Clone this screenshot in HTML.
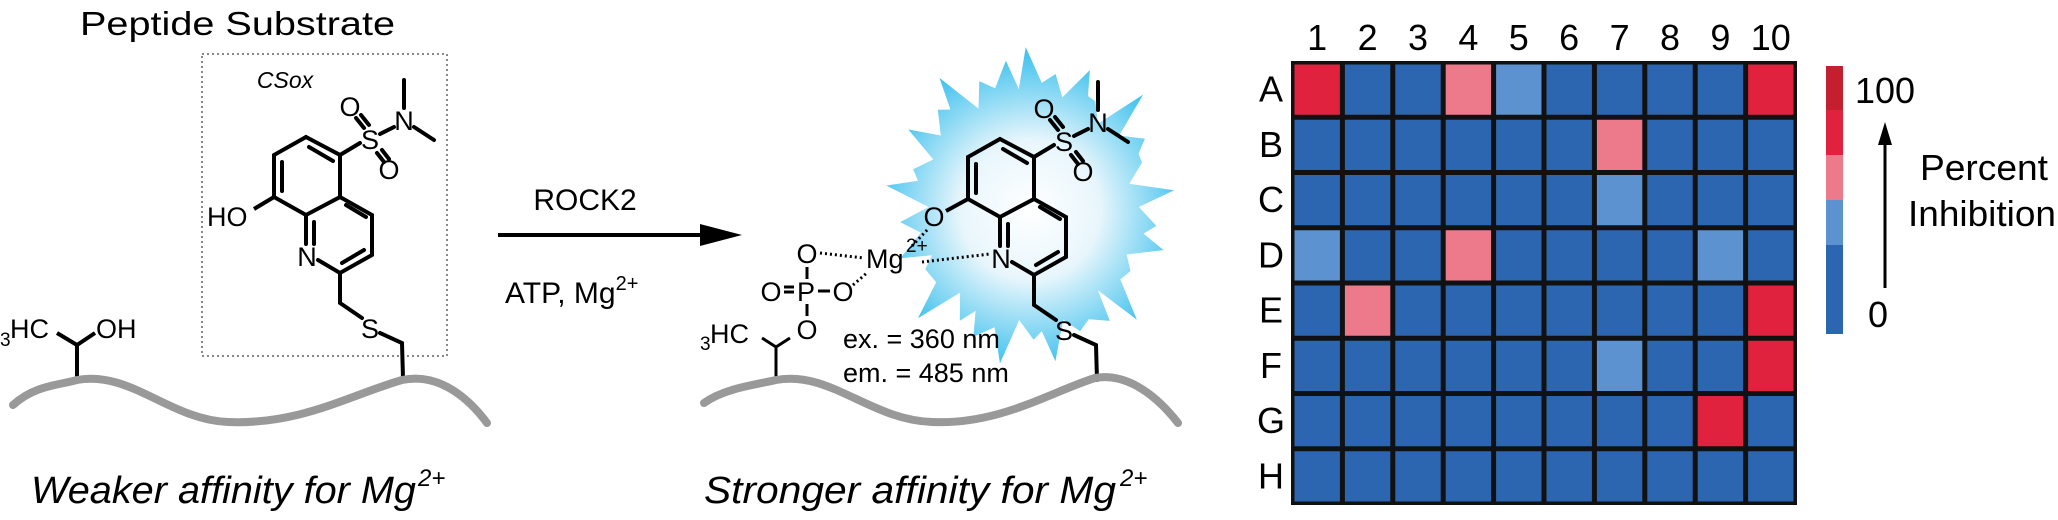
<!DOCTYPE html>
<html><head><meta charset="utf-8"><style>
html,body{margin:0;padding:0;background:#fff;}
svg{display:block;}
text{font-family:"Liberation Sans",sans-serif;}
</style></head><body>
<svg id="s" width="2058" height="520" viewBox="0 0 2058 520" xmlns="http://www.w3.org/2000/svg">
<defs>
<radialGradient id="g" cx="1030" cy="210" r="155" gradientUnits="userSpaceOnUse">
<stop offset="0" stop-color="#ffffff"/><stop offset="0.45" stop-color="#e8f6fc"/><stop offset="1" stop-color="#45c3ee"/>
</radialGradient>
<g id="mol" stroke="#000" stroke-width="4" fill="none" stroke-linecap="round">
<polyline points="306,137 274,155 274,197 306,215 340,197 340,155 306,137"/>
<polyline points="340,197 372,215 372,255 340,273 318,260"/>
<line x1="306" y1="215" x2="306" y2="244"/>
<line x1="282" y1="162" x2="282" y2="191"/>
<line x1="309" y1="147" x2="333" y2="161"/>
<line x1="346" y1="205" x2="366" y2="217"/>
<line x1="342" y1="263" x2="364" y2="250"/>
<line x1="314" y1="222" x2="314" y2="244"/>
<line x1="340" y1="155" x2="360" y2="143"/>
<line x1="380" y1="134" x2="394" y2="127"/>
<line x1="404" y1="80" x2="404" y2="108"/>
<line x1="414" y1="127" x2="434" y2="140"/>
<line x1="356" y1="118" x2="364" y2="128"/><line x1="361" y1="115" x2="369" y2="125"/>
<line x1="377" y1="153" x2="384" y2="162"/><line x1="382" y1="150" x2="389" y2="159"/>
<polyline points="340,273 340,303 362,318"/>
<polyline points="380,333 402,343 403,378"/>
</g>
<g id="moltxt" font-size="27" fill="#000">
<text x="370" y="149" text-anchor="middle">S</text>
<text x="350" y="116" text-anchor="middle">O</text>
<text x="389" y="179" text-anchor="middle">O</text>
<text x="404" y="130" text-anchor="middle">N</text>
<text x="307" y="266" text-anchor="middle">N</text>
<text x="370" y="338" text-anchor="middle">S</text>
</g>
</defs>

<!-- LEFT -->
<text x="80" y="35" font-size="33" textLength="315" lengthAdjust="spacingAndGlyphs">Peptide Substrate</text>
<rect x="202" y="54" width="245" height="302" fill="none" stroke="#888" stroke-width="2" stroke-dasharray="2,3"/>
<text x="285" y="88" font-size="23" font-style="italic" text-anchor="middle">CSox</text>
<use href="#mol"/><use href="#moltxt"/>
<line x1="274" y1="197" x2="254" y2="209" stroke="#000" stroke-width="4"/>
<text x="207" y="226" font-size="27">HO</text>
<text x="0" y="346" font-size="19">3</text>
<text x="10" y="338" font-size="27">HC</text>
<text x="96" y="338" font-size="27">OH</text>
<polyline points="57,333 77,345 95,333" fill="none" stroke="#000" stroke-width="4"/>
<line x1="77" y1="345" x2="77" y2="380" stroke="#000" stroke-width="4"/>
<path d="M13,405 C35,385 60,385 77,380 C130,370 170,420 228,422 C300,425 350,395 402,380 C440,372 470,400 487,423" fill="none" stroke="#999" stroke-width="8" stroke-linecap="round"/>
<text x="31" y="503" font-size="38" font-style="italic" textLength="385" lengthAdjust="spacingAndGlyphs">Weaker affinity for Mg</text>
<text x="418" y="486" font-size="24" font-style="italic">2+</text>

<!-- ARROW -->
<line x1="498" y1="235" x2="705" y2="235" stroke="#000" stroke-width="4"/>
<polygon points="700,224 742,235 700,246" fill="#000"/>
<text x="585" y="210" font-size="30" text-anchor="middle">ROCK2</text>
<text x="505" y="303" font-size="30">ATP, Mg<tspan font-size="20" dy="-13">2+</tspan></text>

<!-- BURST -->
<polygon id="burst" fill="url(#g)" points=""/>
<g transform="translate(694,2)"><use href="#mol"/><use href="#moltxt"/></g>
<line x1="968" y1="199" x2="946" y2="211" stroke="#000" stroke-width="4"/>
<text x="934" y="226" font-size="27" text-anchor="middle">O</text>
<text x="807" y="263" font-size="27" text-anchor="middle">O</text>
<text x="771" y="301" font-size="27" text-anchor="middle">O</text>
<text x="806" y="301" font-size="27" text-anchor="middle">P</text>
<text x="843" y="301" font-size="27" text-anchor="middle">O</text>
<text x="807" y="339" font-size="27" text-anchor="middle">O</text>
<text x="866" y="268" font-size="27">Mg</text>
<text x="906" y="252" font-size="19">2+</text>
<g stroke="#000" stroke-width="3" fill="none">
<line x1="784" y1="292" x2="794" y2="292"/><line x1="784" y1="287" x2="794" y2="287"/>
<line x1="818" y1="291" x2="830" y2="291"/>
<line x1="807" y1="267" x2="807" y2="279"/><line x1="807" y1="304" x2="807" y2="316"/>
<polyline points="790,338 776,347 762,338"/><line x1="776" y1="347" x2="776" y2="380"/>
</g>
<g stroke="#000" stroke-width="3" stroke-dasharray="2,3" fill="none">
<line x1="820" y1="253" x2="864" y2="258"/>
<line x1="853" y1="285" x2="868" y2="272"/>
<line x1="922" y1="262" x2="990" y2="254"/>
<line x1="912" y1="246" x2="928" y2="229"/>
</g>
<text x="700" y="350" font-size="19">3</text>
<text x="710" y="343" font-size="27">HC</text>
<text x="843" y="348" font-size="27">ex. = 360 nm</text>
<text x="843" y="382" font-size="27">em. = 485 nm</text>
<path d="M704,403 C725,388 755,385 776,380 C830,370 870,420 932,422 C1000,425 1050,392 1095,378 C1130,372 1160,400 1178,423" fill="none" stroke="#999" stroke-width="8" stroke-linecap="round"/>
<text x="704" y="503" font-size="38" font-style="italic" textLength="412" lengthAdjust="spacingAndGlyphs">Stronger affinity for Mg</text>
<text x="1120" y="486" font-size="24" font-style="italic">2+</text>

<!-- HEATMAP -->
<g id="hm"></g>
<g font-size="36" text-anchor="middle" id="lbl"></g>
<rect x="1826" y="66" width="17" height="45" fill="#c41f2e"/>
<rect x="1826" y="110" width="17" height="45" fill="#e0223f"/>
<rect x="1826" y="155" width="17" height="45" fill="#ed7a8a"/>
<rect x="1826" y="200" width="17" height="45" fill="#5b92cf"/>
<rect x="1826" y="245" width="17" height="89" fill="#2c66b0"/>
<text x="1855" y="103" font-size="36" textLength="60" lengthAdjust="spacingAndGlyphs">100</text>
<text x="1868" y="327" font-size="36">0</text>
<line x1="1885" y1="288" x2="1885" y2="140" stroke="#000" stroke-width="3"/>
<polygon points="1878,145 1885,122 1892,145" fill="#000"/>
<text x="1920" y="180" font-size="36" textLength="128" lengthAdjust="spacingAndGlyphs">Percent</text>
<text x="1908" y="226" font-size="36" textLength="148" lengthAdjust="spacingAndGlyphs">Inhibition</text>
</svg>
<script>
(function(){
var NS="http://www.w3.org/2000/svg";
var pts=[],n=30,cx=1030,cy=207;
var outer=[1.0,0.85,0.95,0.8,1.05,0.9,0.82,1.0,0.88,0.96,0.8,1.02,0.9,0.85,0.98,0.83,1.0,0.9,0.86,1.04,0.82,0.95,0.9,1.0,0.84,0.97,0.88,1.02,0.86,0.93];
var inner=[0.78,0.72,0.8,0.7,0.76,0.82,0.7,0.75,0.8,0.73,0.77,0.7,0.81,0.74,0.78,0.71,0.79,0.75,0.72,0.8,0.74,0.77,0.7,0.79,0.73,0.76,0.82,0.71,0.78,0.74];
for(var i=0;i<n;i++){
 var a=i/n*2*Math.PI-Math.PI/2+(i%3-1)*0.03;
 var r=outer[i];
 pts.push((cx+Math.cos(a)*145*r).toFixed(1)+","+(cy+Math.sin(a)*160*r).toFixed(1));
 var b=(i+0.5)/n*2*Math.PI-Math.PI/2;
 pts.push((cx+Math.cos(b)*145*inner[i]).toFixed(1)+","+(cy+Math.sin(b)*160*inner[i]).toFixed(1));
}
document.getElementById("burst").setAttribute("points",pts.join(" "));
var R="#e0223f",P="#ed7a8a",L="#5b92cf",B="#2c66b0";
var d=[
[R,B,B,P,L,B,B,B,B,R],
[B,B,B,B,B,B,P,B,B,B],
[B,B,B,B,B,B,L,B,B,B],
[L,B,B,P,B,B,B,B,L,B],
[B,P,B,B,B,B,B,B,B,R],
[B,B,B,B,B,B,L,B,B,R],
[B,B,B,B,B,B,B,B,R,B],
[B,B,B,B,B,B,B,B,B,B]];
var x0=1291,y0=61,cw=50.4,ch=55.25,g=document.getElementById("hm"),l=document.getElementById("lbl");
var bg=document.createElementNS(NS,"rect");
bg.setAttribute("x",x0);bg.setAttribute("y",y0);bg.setAttribute("width",cw*10+2);bg.setAttribute("height",ch*8+2);bg.setAttribute("fill","#111");g.appendChild(bg);
for(var r=0;r<8;r++)for(var c=0;c<10;c++){
 var e=document.createElementNS(NS,"rect");
 e.setAttribute("x",x0+c*cw+3.5);e.setAttribute("y",y0+r*ch+3.5);
 e.setAttribute("width",cw-5);e.setAttribute("height",ch-5);e.setAttribute("fill",d[r][c]);g.appendChild(e);
}
for(var c=0;c<10;c++){var t=document.createElementNS(NS,"text");t.setAttribute("x",x0+c*cw+cw/2+1);t.setAttribute("y",50);t.textContent=c+1;l.appendChild(t);}
var rl="ABCDEFGH";
for(var r=0;r<8;r++){var t=document.createElementNS(NS,"text");t.setAttribute("x",1271);t.setAttribute("y",y0+r*ch+ch/2+13);t.textContent=rl[r];l.appendChild(t);}
})();
</script>
</body></html>
